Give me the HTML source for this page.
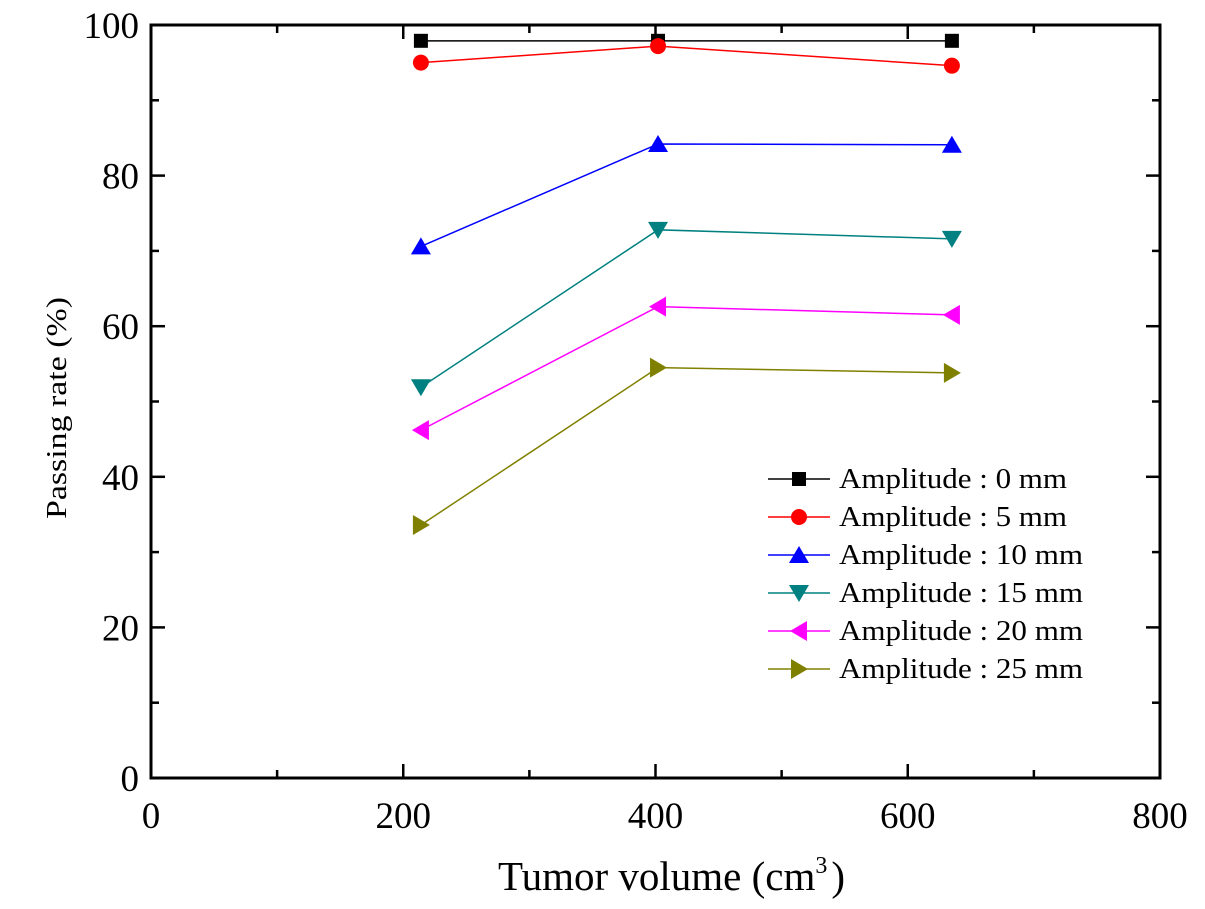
<!DOCTYPE html>
<html><head><meta charset="utf-8"><style>
html,body{margin:0;padding:0;background:#fff;}
svg{display:block;font-family:"Liberation Serif",serif;}
</style></head><body>
<svg id="chart" width="1205" height="909" viewBox="0 0 1205 909">
<g id="axes"></g>
<g id="series"></g>
<g id="legend"></g>
<text x="0" y="0" font-size="28" text-anchor="middle" textLength="222" lengthAdjust="spacingAndGlyphs" transform="translate(66 408) rotate(-90)">Passing rate (%)</text>
<text x="498" y="890" font-size="41">Tumor volume (cm<tspan dy="-17" font-size="24">3</tspan><tspan dy="17" dx="4">)</tspan></text>
</svg>
<script>
const xValues = [214, 402, 635];
const seriesLabels = ["Amplitude :  0 mm","Amplitude :  5 mm","Amplitude :  10 mm","Amplitude :  15 mm","Amplitude :  20 mm","Amplitude :  25 mm"];
const amp0 = [97.9, 97.9, 97.9];
const amp5 = [95.0, 97.2, 94.6];
const amp10 = [70.6, 84.2, 84.1];
const amp15 = [51.9, 72.8, 71.6];
const amp20 = [46.2, 62.6, 61.5];
const amp25 = [33.6, 54.5, 53.8];
const xTicks = [0, 200, 400, 600, 800];
const yTicks = [0, 20, 40, 60, 80, 100];

const allSeries = [amp0, amp5, amp10, amp15, amp20, amp25];
const colors = ["#000000","#ff0000","#0000ff","#008080","#ff00ff","#808000"];
const markers = ["square","circle","up","down","left","right"];
const legendWidths = [228, 228, 244, 244, 244, 244];
const L=151, R=1160, T=25, B=778;
const xs = v => L + (v/800)*(R-L);
const ys = v => B - (v/100)*(B-T);
const NS="http://www.w3.org/2000/svg";
function mk(tag, attrs, parent){const e=document.createElementNS(NS,tag);for(const k in attrs)e.setAttribute(k,attrs[k]);parent.appendChild(e);return e;}
const axes=document.getElementById('axes');
const frame=mk('rect',{x:L,y:T,width:R-L,height:B-T,fill:'none',stroke:'#000','stroke-width':3},axes);


for(let v=0; v<=800; v+=100){
  const x=xs(v), len = v%200===0?14:8;
  const t1=mk('line',{x1:x,y1:B,x2:x,y2:B-len,stroke:'#000','stroke-width':2.5},axes);
  
  
  const t2=mk('line',{x1:x,y1:T,x2:x,y2:T+len,stroke:'#000','stroke-width':2.5},axes);
  
  
}
for(let v=0; v<=100; v+=10){
  const y=ys(v), len = v%20===0?14:8;
  const t1=mk('line',{x1:L,y1:y,x2:L+len,y2:y,stroke:'#000','stroke-width':2.5},axes);
  
  
  const t2=mk('line',{x1:R,y1:y,x2:R-len,y2:y,stroke:'#000','stroke-width':2.5},axes);
  
  
}
xTicks.forEach(v=>{
  const t=mk('text',{x:xs(v),y:B+50,'font-size':37,'text-anchor':'middle'},axes);
  t.textContent=v;
  
  
});
yTicks.forEach(v=>{
  const t=mk('text',{x:L-12,y:ys(v)+13,'font-size':37,'text-anchor':'end'},axes);
  t.textContent=v;
  
  
});
function marker(type,x,y,c,parent){
  const s=9;let e;
  if(type==='square') e=mk('rect',{x:x-7,y:y-7,width:14,height:14,fill:c},parent);
  else if(type==='circle') e=mk('circle',{cx:x,cy:y,r:8,fill:c},parent);
  else {
    let p;
    if(type==='up') p=[[x,y-s],[x-s-1,y+s-1],[x+s+1,y+s-1]];
    if(type==='down') p=[[x,y+s],[x-s-1,y-s+1],[x+s+1,y-s+1]];
    if(type==='left') p=[[x-s,y],[x+s-1,y-s-1],[x+s-1,y+s+1]];
    if(type==='right') p=[[x+s,y],[x-s+1,y-s-1],[x-s+1,y+s+1]];
    e=mk('polygon',{points:p.map(q=>q.join(',')).join(' '),fill:c},parent);
  }
  return e;
}
const sg=document.getElementById('series');
allSeries.forEach((vals,i)=>{
  const g=mk('g',{},sg);
  
  
  const pl=mk('polyline',{points:vals.map((v,j)=>xs(xValues[j])+','+ys(v)).join(' '),fill:'none',stroke:colors[i],'stroke-width':1.5},g);
  
  
  vals.forEach((v,j)=>{
    const m=marker(markers[i],xs(xValues[j]),ys(v),colors[i],g);
    
    
  });
});
const lg=document.getElementById('legend');
seriesLabels.forEach((lab,i)=>{
  const y=479+i*38;
  const g=mk('g',{},lg);
  
  
  mk('line',{x1:768,y1:y,x2:830,y2:y,stroke:colors[i],'stroke-width':1.5},g);
  marker(markers[i],799,y,colors[i],g);
  const t=mk('text',{x:839,y:y+9,'font-size':28,textLength:legendWidths[i],lengthAdjust:'spacingAndGlyphs','xml:space':'preserve'},g);
  t.textContent=lab;
});
</script>
</body></html>
